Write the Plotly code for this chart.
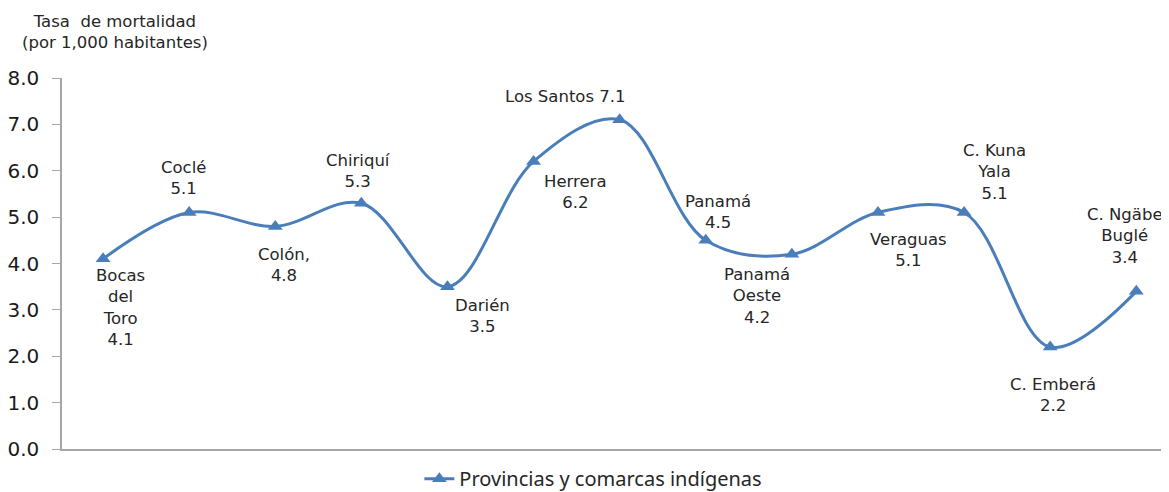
import plotly.graph_objects as go

categorias = ["Bocas del Toro", "Coclé", "Colón", "Chiriquí", "Darién", "Herrera",
              "Los Santos", "Panamá", "Panamá Oeste", "Veraguas", "C. Kuna Yala",
              "C. Emberá", "C. Ngäbe Buglé"]
tasas = [4.1, 5.1, 4.8, 5.3, 3.5, 6.2, 7.1, 4.5, 4.2, 5.1, 5.1, 2.2, 3.4]
etiquetas = ["Bocas<br>del<br>Toro", "Coclé", "Colón,", "Chiriquí", "Darién", "Herrera",
             "Los Santos", "Panamá", "Panamá<br>Oeste", "Veraguas", "C. Kuna<br>Yala",
             "C. Emberá", "C. Ngäbe<br>Buglé"]
y_ticks = [0, 1, 2, 3, 4, 5, 6, 7, 8]

# label offsets in pixels (style)
shifts = [(17, -49), (-6, 34), (9, -39), (-3, 32), (35, -29), (42, -31), (-54, 23),
          (12, 28), (-35, -42), (31, -38), (30, 40), (3, -48), (-11, 55)]

color = "#4a7ebb"
txt_font = dict(family="DejaVu Sans, Liberation Sans, Arial", size=16.5, color="#262626")

fig = go.Figure()
fig.add_trace(go.Scatter(
    x=list(range(len(categorias))), y=tasas, mode="lines+markers",
    name="Provincias y comarcas indígenas",
    line=dict(color=color, width=3, shape="spline", smoothing=1.0),
    marker=dict(symbol="triangle-up", size=13, color=color),
    hoverinfo="text", text=categorias,
))

for i, (lab, v) in enumerate(zip(etiquetas, tasas)):
    sep = " " if lab == "Los Santos" else "<br>"
    fig.add_annotation(x=i, y=v, xref="x", yref="y", text=f"{lab}{sep}{v:.1f}",
                       showarrow=False, xshift=shifts[i][0], yshift=shifts[i][1],
                       xanchor="center", yanchor="middle", font=txt_font)

fig.add_annotation(xref="paper", yref="paper", x=0.0479, y=1.0, yshift=46.5,
                   xanchor="center", yanchor="middle", showarrow=False,
                   text="Tasa  de mortalidad<br>(por 1,000 habitantes)",
                   font=txt_font)

# page body has an 8px margin; figure sized so it fills the 1169x492 window
fig.update_layout(
    width=1161, height=484,
    margin=dict(l=54, r=0, t=70, b=43, autoexpand=False),
    paper_bgcolor="white", plot_bgcolor="white",
    showlegend=True,
    legend=dict(orientation="h", x=0.48, xanchor="center", y=-0.08, yanchor="middle",
                font=dict(family="Noto Sans, Open Sans", size=20, color="#262626")),
    xaxis=dict(range=[-0.477, 12.38], showticklabels=False, showgrid=False, zeroline=False,
               showline=True, linecolor="#a6a6a6", linewidth=1.5, ticks=""),
    yaxis=dict(range=[0, 8], tickvals=y_ticks, ticktext=[f"{t:.1f}" for t in y_ticks],
               showgrid=False, zeroline=False, showline=True, linecolor="#a6a6a6", linewidth=1.5,
               ticks="outside", ticklen=8, tickcolor="#a6a6a6", ticklabelstandoff=9,
               tickfont=dict(family="DejaVu Sans, Liberation Sans, Arial", size=20, color="#1a1a1a")),
)

fig.write_html("out.html")
